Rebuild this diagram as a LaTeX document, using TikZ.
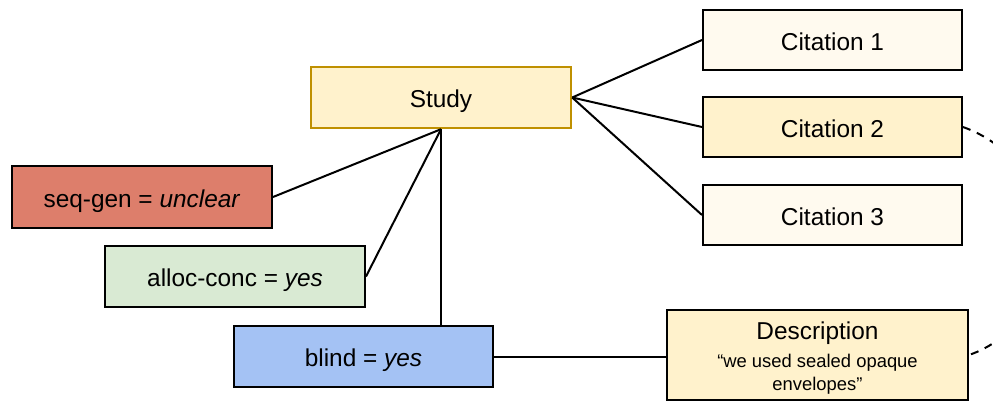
\documentclass[tikz,border=0pt]{standalone}
\usepackage{fontspec}
\setmainfont{Liberation Sans}
\definecolor{studyfill}{HTML}{FFF2CC}
\definecolor{studyline}{HTML}{BF9000}
\definecolor{citelight}{HTML}{FFFAEF}
\definecolor{citedark}{HTML}{FFF2CC}
\definecolor{redfill}{HTML}{DD7E6B}
\definecolor{greenfill}{HTML}{D9EAD3}
\definecolor{bluefill}{HTML}{A4C2F4}
\begin{document}
\begin{tikzpicture}[x=0.5pt,y=-0.5pt,
  box/.style={draw=black, line width=1pt, rectangle, inner sep=0pt,
    font=\fontsize{12.2}{14}\selectfont, minimum width=129.5pt, minimum height=30.5pt},
  onebox/.style={box, text height=10.6pt, text depth=0.2pt},
  conn/.style={line width=1pt, black},
  dashconn/.style={line width=1pt, black, dash pattern=on 4pt off 3.5pt}
]
\useasboundingbox (0,0) rectangle (993,403);
\node[onebox, draw=studyline, line width=1.2pt, fill=studyfill, minimum width=130pt] (study) at (441,97.5) {Study};
\node[onebox, fill=citelight, minimum height=30pt] (cit1) at (832.5,40) {Citation 1};
\node[onebox, fill=citedark, minimum height=30pt] (cit2) at (832.5,127) {Citation 2};
\node[onebox, fill=citelight, minimum height=30pt] (cit3) at (832.5,215) {Citation 3};
\node[onebox, fill=redfill, minimum width=130pt, minimum height=31pt] (seq) at (142,197) {seq-gen = \textit{unclear}};
\node[onebox, fill=greenfill, minimum width=130pt] (alloc) at (235,276.5) {alloc-conc = \textit{yes}};
\node[onebox, fill=bluefill] (blind) at (363.5,356.5) {blind = \textit{yes}};
\node[box, fill=citedark, minimum width=150.5pt, minimum height=45pt] (desc) at (817.5,355) {};
\node[align=center, inner sep=0pt, font=\fontsize{9.2}{11.5}\selectfont] (desctext)
  at ([yshift=-1.75pt]desc.center)
  {{\fontsize{12.2}{14}\selectfont Description}\\[2.5pt]“we used sealed opaque\\envelopes”};
\draw[conn] (study.south) -- (seq.east);
\draw[conn] (study.south) -- (alloc.east);
\draw[conn] (study.south) -- (study.south |- blind.north);
\draw[conn] (study.east) -- (cit1.west);
\draw[conn] (study.east) -- (cit2.west);
\draw[conn] (study.east) -- (cit3.west);
\draw[conn] (blind.east) -- (blind.east -| desc.west);
\draw[dashconn] (cit2.east) .. controls (1070,165) and (1070,320) .. (desc.east);
\end{tikzpicture}
\end{document}
